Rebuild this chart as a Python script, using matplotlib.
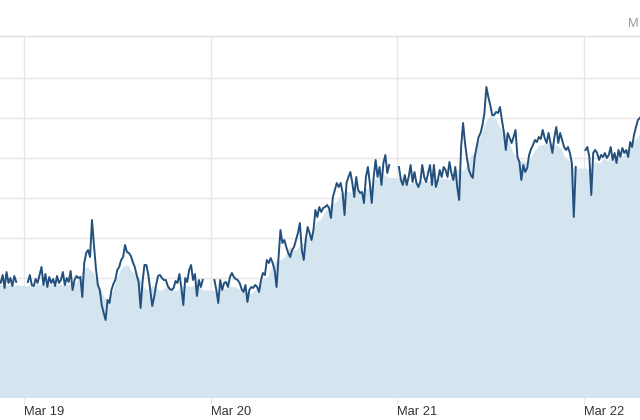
import numpy as np
import pandas as pd
import matplotlib.pyplot as plt

# 15-minute prices, one list per trading session
# hours are counted from Mar 19 00:00
session_starts = [-3.25, 0.5, 24.5, 48.25, 72.25]

mar18 = [1559, 1557.5, 1561.5, 1555, 1563, 1557.5, 1560, 1556, 1561, 1558]

mar19 = [1558, 1561.5, 1556.5, 1556, 1559.5, 1557.5, 1561.5, 1565.5, 1556.5, 1562,
         1555.5, 1560.5, 1557.5, 1559.5, 1556, 1561, 1557.5, 1559, 1563, 1556.5,
         1560, 1558, 1563.5, 1554, 1559, 1561, 1560, 1560.5, 1550.5, 1567.5,
         1572.5, 1574, 1570.5, 1589, 1576.5, 1565, 1556.5, 1554, 1546.5, 1542.5,
         1539, 1549, 1547.5, 1554, 1557, 1559, 1564, 1565.5, 1569, 1570.5,
         1576.5, 1573, 1572.5, 1571, 1568, 1565.5, 1561.5, 1558, 1545, 1558,
         1566.5, 1566.5, 1561.5, 1554, 1546, 1550.5, 1556.5, 1561, 1561.5, 1560,
         1559, 1559, 1556, 1554.5, 1554, 1555, 1558.5, 1557.5, 1562, 1555,
         1546.5, 1560, 1558, 1564, 1566.5, 1559, 1562, 1551, 1559, 1555.5, 1559]

mar20 = [1559, 1554, 1547.5, 1559, 1554, 1557.5, 1558, 1555.5, 1560.5, 1562.5,
         1560.5, 1559.5, 1559, 1557.5, 1554.5, 1553, 1556.5, 1548, 1554, 1555.5,
         1555, 1556.5, 1555.5, 1553, 1559, 1562.5, 1561.5, 1569, 1567.5, 1570,
         1567.5, 1564, 1555.5, 1570, 1584, 1577.5, 1579, 1575.5, 1572.5, 1570.5,
         1574, 1575.5, 1579, 1582.5, 1587.5, 1574, 1569, 1579, 1585.5, 1582.5,
         1579, 1584, 1594, 1590.5, 1595.5, 1593, 1595, 1595.5, 1596.5, 1595,
         1590, 1600.5, 1604, 1607.5, 1605.5, 1607.5, 1602.5, 1591.5, 1607.5, 1610.5,
         1613, 1607.5, 1600.5, 1610.5, 1604, 1602.5, 1603, 1597.5, 1610.5, 1615.5,
         1607.5, 1597.5, 1610.5, 1619, 1610.5, 1615.5, 1606.5, 1617.5, 1621.5, 1612.5,
         1616.5]

mar21 = [1615.5, 1609, 1606.5, 1611.5, 1606.5, 1610.5, 1616.5, 1608, 1613, 1607.5,
         1605.5, 1608, 1616.5, 1610.5, 1608, 1612.5, 1616.5, 1606.5, 1616.5, 1605.5,
         1609, 1614, 1610.5, 1615.5, 1614, 1610.5, 1618, 1612.5, 1609, 1615.5,
         1605.5, 1599, 1625.5, 1637.5, 1627.5, 1620, 1614, 1611.5, 1610, 1620.5,
         1625.5, 1630.5, 1632.5, 1636.5, 1642.5, 1655.5, 1650.5, 1646.5, 1641.5, 1641.5,
         1643, 1642.5, 1645.5, 1639, 1633, 1624, 1632.5, 1630, 1627.5, 1630.5,
         1634, 1620.5, 1618, 1609, 1616.5, 1613, 1615, 1621.5, 1624.5, 1626.5,
         1629, 1628, 1630.5, 1629.5, 1634, 1630, 1627.5, 1632.5, 1627.5, 1622.5,
         1630.5, 1635.5, 1627.5, 1632.5, 1629, 1625.5, 1624, 1625.5, 1622.5, 1617.5,
         1590.5, 1615.5]

mar22 = [1624, 1625.5, 1620.5, 1601.5, 1622.5, 1624, 1622.5, 1619, 1621.5, 1620.5,
         1622.5, 1620, 1621.5, 1625.5, 1619, 1622.5, 1617.5, 1624, 1620.5, 1625,
         1622.5, 1624, 1620.5, 1628, 1625.5, 1631.5, 1635.5, 1639, 1640, 1641.5]

sessions = [mar18, mar19, mar20, mar21, mar22]
day_ticks = [0, 24, 48, 72]
day_labels = ['Mar 19', 'Mar 20', 'Mar 21', 'Mar 22']

line_color = '#23507d'
fill_color = '#d5e5f0'
grid_color = '#e6e6e6'

fig = plt.figure(figsize=(6.4, 4.2), dpi=100)
ax = fig.add_axes([0, 22 / 420, 1, 362 / 420])

all_t, all_v = [], []
for start, vals in zip(session_starts, sessions):
    t = start + 0.25 * np.arange(len(vals))
    all_t.append(t)
    all_v.append(np.array(vals, dtype=float))

# smoothed area under the price, bridging the overnight gaps
t_cat = np.concatenate(all_t)
v_cat = np.concatenate(all_v)
smooth = pd.Series(v_cat).rolling(11, center=True, min_periods=1).mean().values
ax.fill_between(t_cat, 1500, smooth - 2.5, color=fill_color, lw=0, zorder=1)

for t, v in zip(all_t, all_v):
    ax.plot(t, v, color=line_color, lw=1.4, zorder=3)

ax.set_xlim(-3.09, 79.27)
ax.set_ylim(1500, 1681)
ax.set_yticks(np.arange(1520, 1661, 20))
ax.set_yticklabels([])
ax.tick_params(axis='y', length=0)
ax.set_xticks(day_ticks)
ax.set_xticklabels(day_labels, fontsize=9.3, color='#333333', family='Liberation Sans')
for lbl in ax.get_xticklabels():
    lbl.set_horizontalalignment('left')
ax.tick_params(axis='x', length=4, color=grid_color, pad=2)
ax.grid(True, color=grid_color, lw=1, zorder=0)
ax.set_axisbelow(True)

for side in ['left', 'right', 'bottom']:
    ax.spines[side].set_visible(False)
ax.spines['top'].set_color('#e0e0e0')
ax.spines['top'].set_linewidth(1)

fig.text(639 / 640, 1 - 24 / 420, 'M', fontsize=9.3, color='#999999',
         family='Liberation Sans', ha='right', va='center')

fig.savefig('out.png', dpi=100)
